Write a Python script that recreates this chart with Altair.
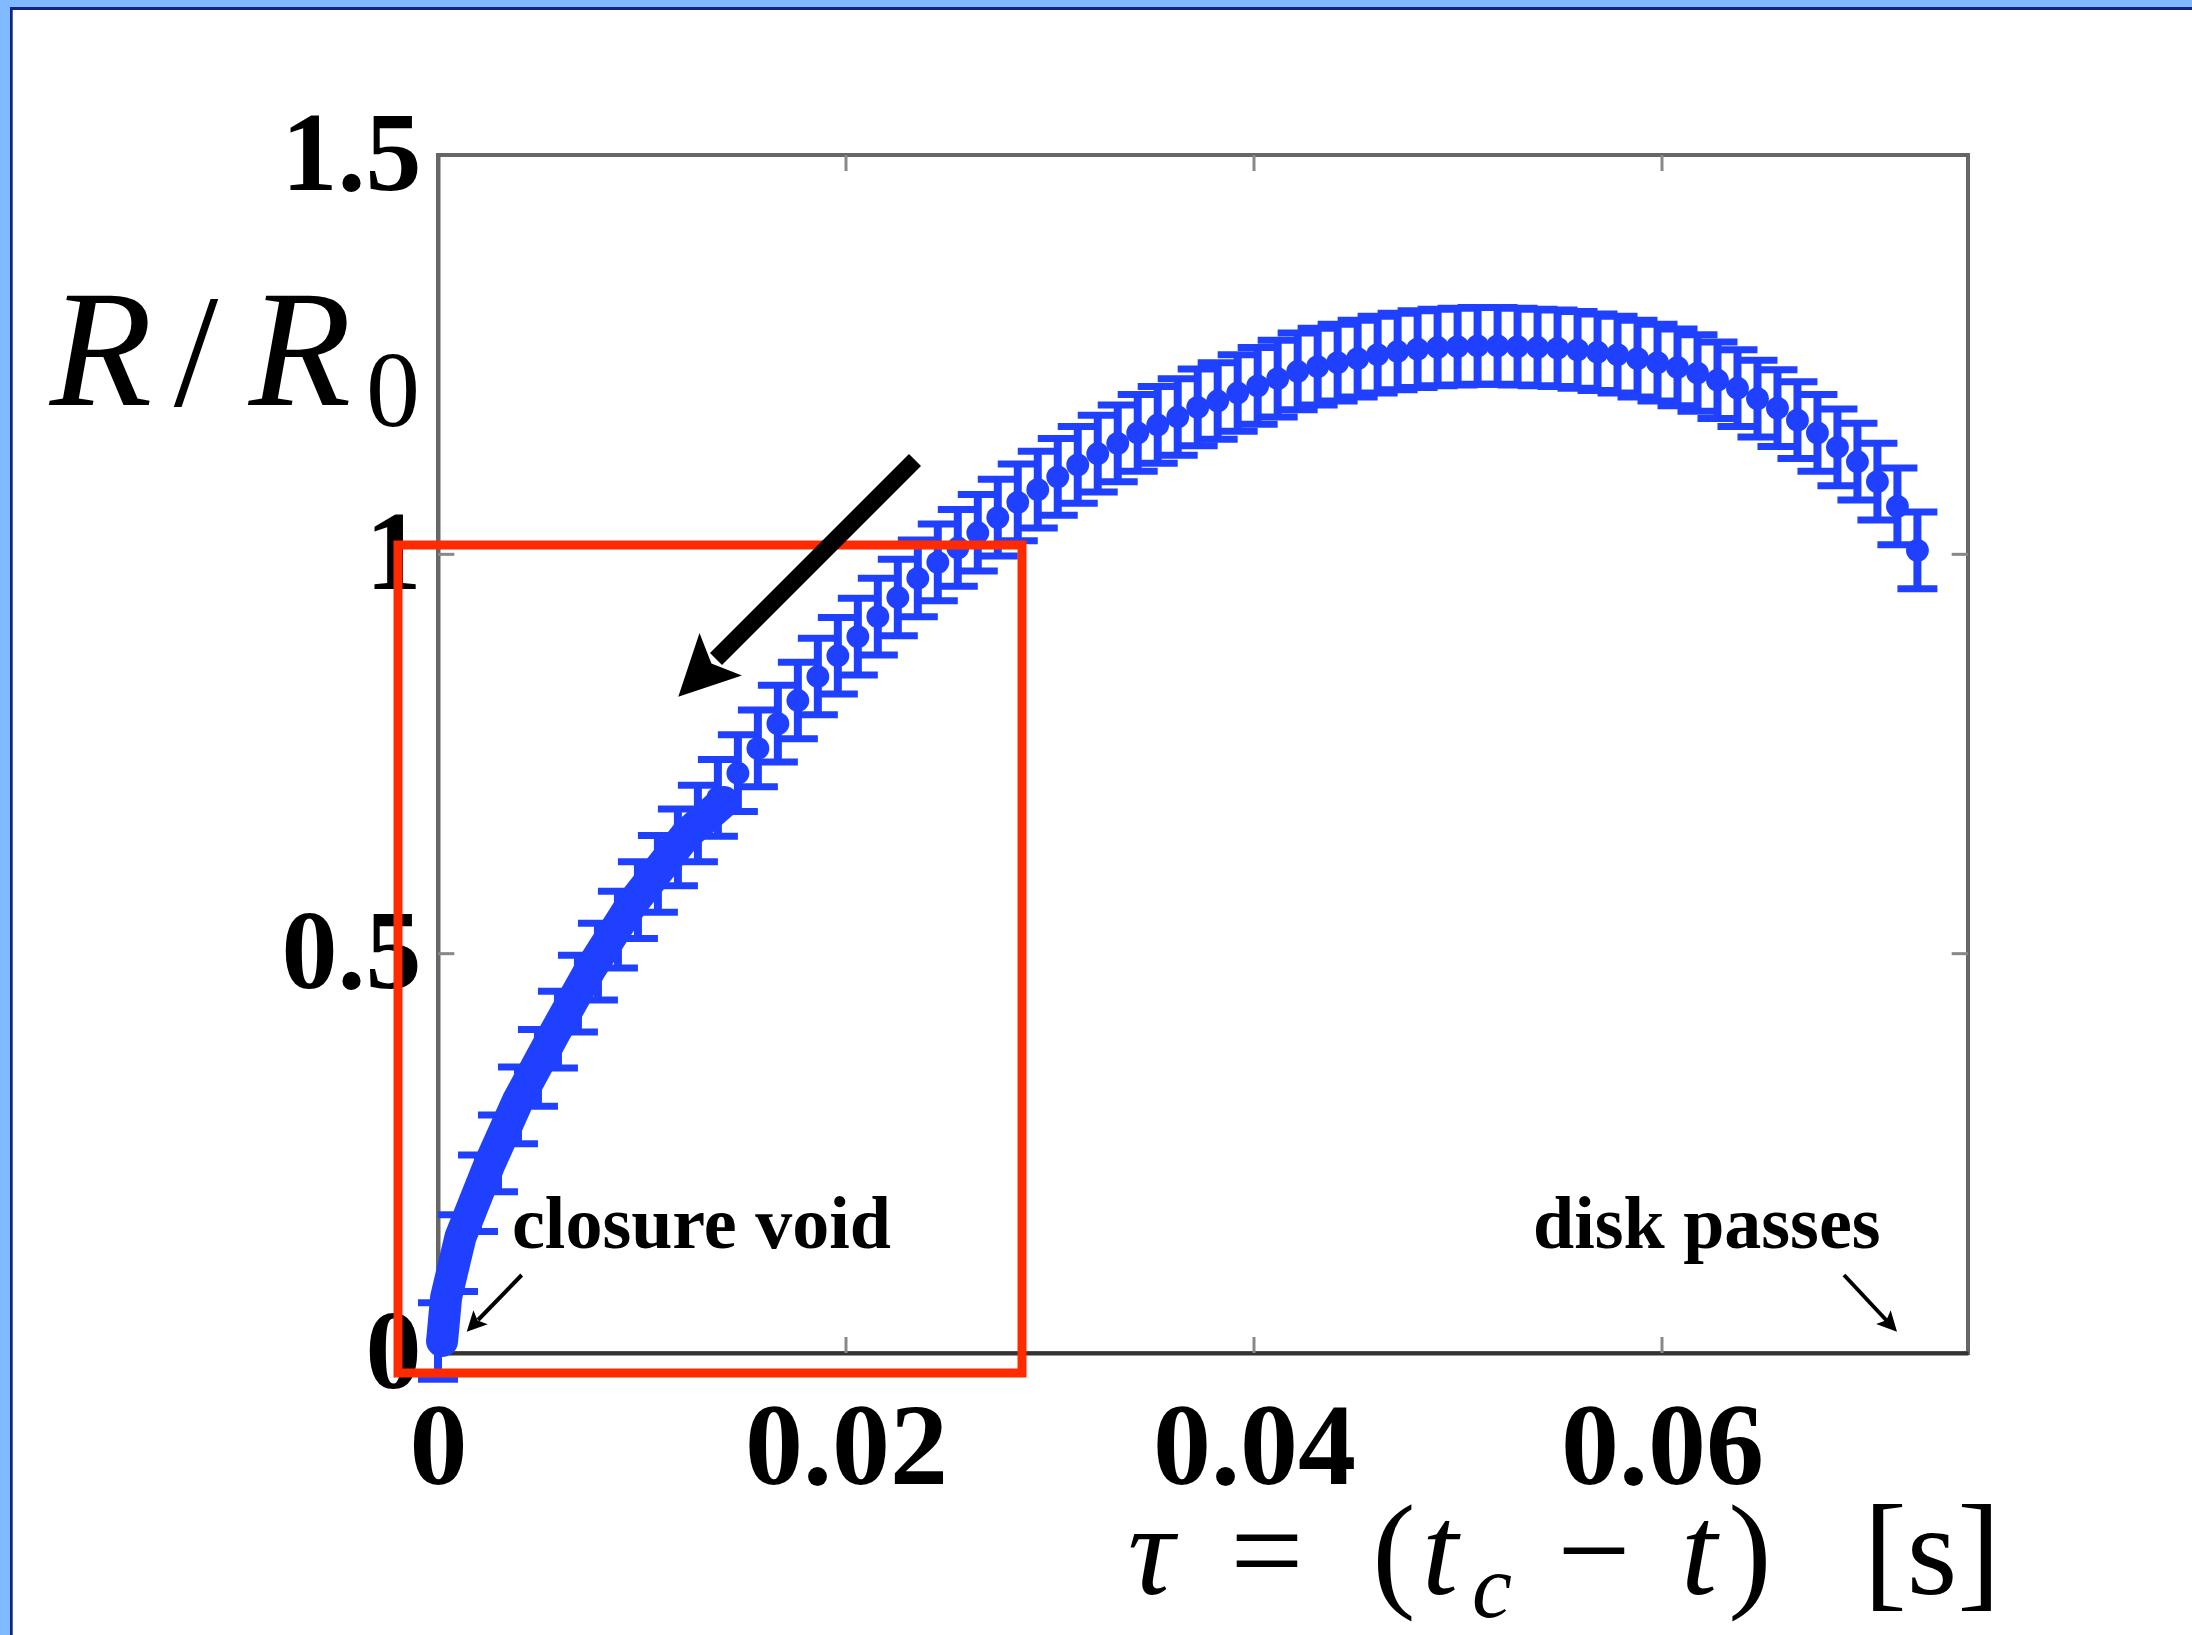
import altair as alt
import pandas as pd

# ---------------- data ----------------
# sparse series (one frame every ~0.98 ms), tau in seconds
TAU = [0.00000, 0.00098, 0.00196, 0.00294, 0.00392, 0.00490, 0.00588, 0.00686,
       0.00784, 0.00882, 0.00980, 0.01078, 0.01176, 0.01274, 0.01372, 0.01470,
       0.01568, 0.01666, 0.01764, 0.01862, 0.01960, 0.02058, 0.02156, 0.02254,
       0.02352, 0.02450, 0.02548, 0.02646, 0.02744, 0.02842, 0.02940, 0.03038,
       0.03136, 0.03234, 0.03332, 0.03430, 0.03528, 0.03626, 0.03724, 0.03822,
       0.03920, 0.04018, 0.04116, 0.04214, 0.04312, 0.04410, 0.04508, 0.04606,
       0.04704, 0.04802, 0.04900, 0.04998, 0.05096, 0.05194, 0.05292, 0.05390,
       0.05488, 0.05586, 0.05684, 0.05782, 0.05880, 0.05978, 0.06076, 0.06174,
       0.06272, 0.06370, 0.06468, 0.06566, 0.06664, 0.06762, 0.06860, 0.06958,
       0.07056, 0.07154, 0.07252]
R = [0.015, 0.125, 0.200, 0.250, 0.310, 0.357, 0.405, 0.450, 0.490, 0.530,
     0.567, 0.600, 0.633, 0.663, 0.695, 0.726, 0.757, 0.788, 0.817, 0.847,
     0.873, 0.897, 0.922, 0.946, 0.970, 0.990, 1.008, 1.027, 1.046, 1.065,
     1.081, 1.097, 1.112, 1.126, 1.139, 1.152, 1.162, 1.172, 1.184, 1.192,
     1.202, 1.211, 1.220, 1.229, 1.235, 1.240, 1.245, 1.250, 1.254, 1.257,
     1.259, 1.260, 1.261, 1.261, 1.260, 1.259, 1.258, 1.256, 1.253, 1.250,
     1.245, 1.240, 1.234, 1.227, 1.218, 1.208, 1.195, 1.183, 1.168, 1.152,
     1.134, 1.116, 1.091, 1.060, 1.005]
ERR_HALF = 0.048  # half height of the error bars

# dense (fast camera) part close to closure
TAU_DENSE = [0.0002, 0.0004, 0.0011, 0.0025, 0.0039, 0.0057, 0.0075, 0.0095, 0.0122, 0.0140]
R_DENSE = [0.015, 0.070, 0.145, 0.235, 0.315, 0.400, 0.482, 0.562, 0.650, 0.690]

X_TICKS = [0, 0.02, 0.04, 0.06]
Y_TICKS = [0, 0.5, 1, 1.5]
X_DOMAIN = [0, 0.075]
Y_DOMAIN = [0, 1.5]

BLUE = "#2040ff"
RED = "#ff2a00"
W, H = 1530, 1198
SERIF = "Liberation Serif"

df = pd.DataFrame({"tau": TAU, "R": R})
df["lo"] = df["R"] - ERR_HALF
df["hi"] = df["R"] + ERR_HALF
dense = pd.DataFrame({"tau": TAU_DENSE, "R": R_DENSE})
one = pd.DataFrame({"a": [0]})

xs = alt.Scale(domain=X_DOMAIN, nice=False, zero=False)
ys = alt.Scale(domain=Y_DOMAIN, nice=False, zero=False)

x_axis = alt.Axis(values=X_TICKS, labelExpr="'' + datum.value", title=None,
                  labelFont=SERIF, labelFontWeight="bold", labelFontSize=116,
                  labelColor="black", ticks=False, grid=False, domainColor="#333",
                  domainWidth=4, labelPadding=38, labelFlush=False, labelOverlap=False,
                  labelLimit=1000)
y_axis = alt.Axis(values=Y_TICKS, labelExpr="'' + datum.value", title=None,
                  labelFont=SERIF, labelFontWeight="bold", labelFontSize=112,
                  labelColor="black", ticks=False, grid=False, domainColor="#666",
                  domainWidth=4, labelPadding=17, labelFlush=False, labelOverlap=False,
                  labelLimit=1000)

base = alt.Chart(df)

dense_line = alt.Chart(dense).mark_line(
    color=BLUE, strokeWidth=32, strokeCap="round", strokeJoin="round"
).encode(x=alt.X("tau:Q", scale=xs, axis=x_axis), y=alt.Y("R:Q", scale=ys, axis=y_axis))

bars = base.mark_rule(color=BLUE, strokeWidth=8).encode(
    x="tau:Q", y="lo:Q", y2="hi:Q")
cap_hi = base.mark_tick(color=BLUE, orient="horizontal", size=40, thickness=7, opacity=1).encode(
    x="tau:Q", y="hi:Q")
cap_lo = base.mark_tick(color=BLUE, orient="horizontal", size=40, thickness=7, opacity=1).encode(
    x="tau:Q", y="lo:Q")
dots = base.mark_circle(color=BLUE, size=520, opacity=1).encode(x="tau:Q", y="R:Q")

# inward ticks (MATLAB style box)
tk = []
for v in X_TICKS[1:]:
    tk.append({"tau": v, "tau2": v, "R": 0, "R2": 0.02})
    tk.append({"tau": v, "tau2": v, "R": 1.5, "R2": 1.48})
for v in Y_TICKS[1:-1]:
    tk.append({"tau": 0, "tau2": 0.0008, "R": v, "R2": v})
    tk.append({"tau": 0.075, "tau2": 0.0742, "R": v, "R2": v})
ticks = alt.Chart(pd.DataFrame(tk)).mark_rule(color="#888", strokeWidth=3).encode(
    x="tau:Q", x2="tau2:Q", y="R:Q", y2="R2:Q")


def px(x):  # page pixel -> plot pixel
    return x - 438


def py(y):
    return y - 155


def rect(x1, y1, x2, y2, **kw):
    return alt.Chart(one).mark_rect(**kw).encode(
        x=alt.value(px(x1)), x2=alt.value(px(x2)), y=alt.value(py(y1)), y2=alt.value(py(y2)))


def rule(x1, y1, x2, y2, width, cap="butt"):
    return alt.Chart(one).mark_rule(color="black", strokeWidth=width, strokeCap=cap).encode(
        x=alt.value(px(x1)), x2=alt.value(px(x2)), y=alt.value(py(y1)), y2=alt.value(py(y2)))


HEAD = "M0,-1L0.8,0.6L0,0.25L-0.8,0.6Z"


def head(cx, cy, angle, size):
    return alt.Chart(one).mark_point(shape=HEAD, filled=True, color="black", opacity=1,
                                     size=size, angle=angle, strokeWidth=0).encode(
        x=alt.value(px(cx)), y=alt.value(py(cy)))


def txt(s, x, y, size, italic=False, bold=False, align="center"):
    return alt.Chart(one).mark_text(
        text=s, font=SERIF, fontSize=size, fontStyle="italic" if italic else "normal",
        fontWeight="bold" if bold else "normal", align=align, baseline="alphabetic",
        color="black").encode(x=alt.value(px(x)), y=alt.value(py(y)))


layers = [
    rect(0, 0, 2192, 7, color="#80baff"),
    rect(0, 0, 10, 1635, color="#80baff"),
    rect(10, 7, 2192, 10, color="#14237f"),
    rect(10, 7, 12.7, 1635, color="#14237f"),
    dense_line, bars, cap_hi, cap_lo, dots, ticks,
    rect(398, 545, 1022, 1373, filled=False, stroke=RED, strokeWidth=9),
    # big arrow
    rule(915, 460, 716, 659, 17),
    head(704.8, 670.2, 225, 5625),
    # small arrows
    rule(521.7, 1275, 478, 1320, 4),
    head(475.4, 1322.7, 224, 625),
    rule(1844, 1275, 1888, 1322, 4),
    head(1888.5, 1322.6, 137, 625),
    txt("closure void", 512, 1248, 74, bold=True, align="left"),
    txt("disk passes", 1533, 1248, 74, bold=True, align="left"),
    # y title  R/R_0
    txt("R", 101, 405, 168, italic=True),
    txt("/", 196, 405, 160),
    txt("R", 300, 405, 168, italic=True),
    txt("0", 393, 426, 108),
    # x title  tau = (t_c - t)  [s]
    txt("τ", 1151, 1594, 130, italic=True),
    txt("=", 1267, 1594, 130),
    txt("(", 1394, 1594, 130),
    txt("t", 1440, 1594, 130, italic=True),
    txt("c", 1492, 1617, 90, italic=True),
    txt("−", 1594, 1594, 130),
    txt("t", 1699, 1594, 130, italic=True),
    txt(")", 1750, 1594, 130),
    txt("[s]", 1932, 1594, 130),
]

chart = alt.layer(*layers).properties(
    width=W, height=H,
    autosize=alt.AutoSizeParams(type="none"),
    padding={"left": 438, "top": 155, "right": 224, "bottom": 282},
).configure(background="white").configure_view(stroke="#666", strokeWidth=4)

chart.save("out.html", embed_options={"renderer": "svg", "actions": False})
